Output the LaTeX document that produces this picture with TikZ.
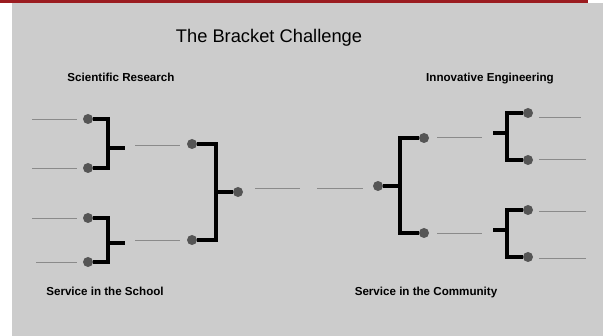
\documentclass[tikz,border=0pt]{standalone}
\usepackage{fontspec}
\setmainfont{Liberation Sans}
\usetikzlibrary{positioning}
\definecolor{pagegray}{HTML}{CCCCCC}
\definecolor{bandred}{HTML}{9B1C20}
\definecolor{dotgray}{HTML}{555555}
\definecolor{slotgray}{HTML}{8A8A8A}
\tikzset{
  team/.style={circle, fill=dotgray, inner sep=0pt, minimum size=10pt},
  slot/.style={slotgray, line width=0.9pt},
  bracket/.style={line width=3.2pt, black},
  region/.style={anchor=base, font=\bfseries\fontsize{11.6}{14}\selectfont},
}

\begin{document}
\begin{tikzpicture}[x=1pt, y=-1pt]
  \useasboundingbox (0,0) rectangle (603,336);

  % Background
  \fill[bandred] (0,0) rectangle (588,2.6);
  \fill[pagegray] (12,3) rectangle (603,336);

  % Title and regions
  \node[font=\fontsize{18.3}{22}\selectfont] (title) at (269,38) {The Bracket Challenge};
  \node[region] (sci) at (121,82) {Scientific Research};
  \node[region] (eng) at (490,82) {Innovative Engineering};
  \node[region] (sch) at (105,296) {Service in the School};
  \node[region] (com) at (426,296) {Service in the Community};

  % Left half: first round
  \node[team] (la) at (88,119) {};
  \node[team] (lb) at (88,168) {};
  \node[team] (lc) at (88,218) {};
  \node[team] (ld) at (88,262) {};
  \coordinate (la0) at (32,119);  \coordinate (la1) at (77,119);
  \coordinate (lb0) at (32,168);  \coordinate (lb1) at (77,168);
  \coordinate (lc0) at (32,218);  \coordinate (lc1) at (77,218);
  \coordinate (ld0) at (36,262);  \coordinate (ld1) at (77,262);
  \draw[slot] (la0) -- (la1);
  \draw[slot] (lb0) -- (lb1);
  \draw[slot] (lc0) -- (lc1);
  \draw[slot] (ld0) -- (ld1);
  \draw[bracket] (la.east) -| (108,168) -- (lb.east);
  \draw[bracket] (lc.east) -| (108,262) -- (ld.east);
  \coordinate (lab) at (125,148);
  \coordinate (lcd) at (125,243);
  \draw[bracket] (108,148) -- (lab);
  \draw[bracket] (108,243) -- (lcd);

  % Left half: second round
  \node[team] (le) at (192,144) {};
  \node[team] (lf) at (192,240) {};
  \node[team] (lg) at (238,192) {};
  \coordinate (le0) at (135,145);  \coordinate (le1) at (180,145);
  \coordinate (lf0) at (135,240);  \coordinate (lf1) at (180,240);
  \draw[slot] (le0) -- (le1);
  \draw[slot] (lf0) -- (lf1);
  \draw[bracket] (le.east) -| (216,240) -- (lf.east);
  \draw[bracket] (216,192) -- (lg.west);

  % Final
  \coordinate (fl0) at (255,188);  \coordinate (fl1) at (300,188);
  \coordinate (fr0) at (317,188);  \coordinate (fr1) at (363,188);
  \draw[slot] (fl0) -- (fl1);
  \draw[slot] (fr0) -- (fr1);

  % Right half: second round
  \node[team] (rg) at (378,186) {};
  \node[team] (re) at (424,138) {};
  \node[team] (rf) at (424,233) {};
  \draw[bracket] (re.west) -| (400,233) -- (rf.west);
  \draw[bracket] (400,186) -- (rg.east);
  \coordinate (re0) at (437,137);  \coordinate (re1) at (482,137);
  \coordinate (rf0) at (437,233);  \coordinate (rf1) at (482,233);
  \draw[slot] (re0) -- (re1);
  \draw[slot] (rf0) -- (rf1);

  % Right half: first round
  \node[team] (ra) at (528,113) {};
  \node[team] (rb) at (528,160) {};
  \node[team] (rc) at (528,210) {};
  \node[team] (rd) at (528,257) {};
  \coordinate (rab) at (493,133);
  \coordinate (rcd) at (493,230);
  \draw[bracket] (ra.west) -| (507,160) -- (rb.west);
  \draw[bracket] (rc.west) -| (507,257) -- (rd.west);
  \draw[bracket] (rab) -- (507,133);
  \draw[bracket] (rcd) -- (507,230);
  \coordinate (ra0) at (539,117);  \coordinate (ra1) at (581,117);
  \coordinate (rb0) at (539,159);  \coordinate (rb1) at (586,159);
  \coordinate (rc0) at (539,211);  \coordinate (rc1) at (586,211);
  \coordinate (rd0) at (539,258);  \coordinate (rd1) at (586,258);
  \draw[slot] (ra0) -- (ra1);
  \draw[slot] (rb0) -- (rb1);
  \draw[slot] (rc0) -- (rc1);
  \draw[slot] (rd0) -- (rd1);
\end{tikzpicture}
\end{document}
